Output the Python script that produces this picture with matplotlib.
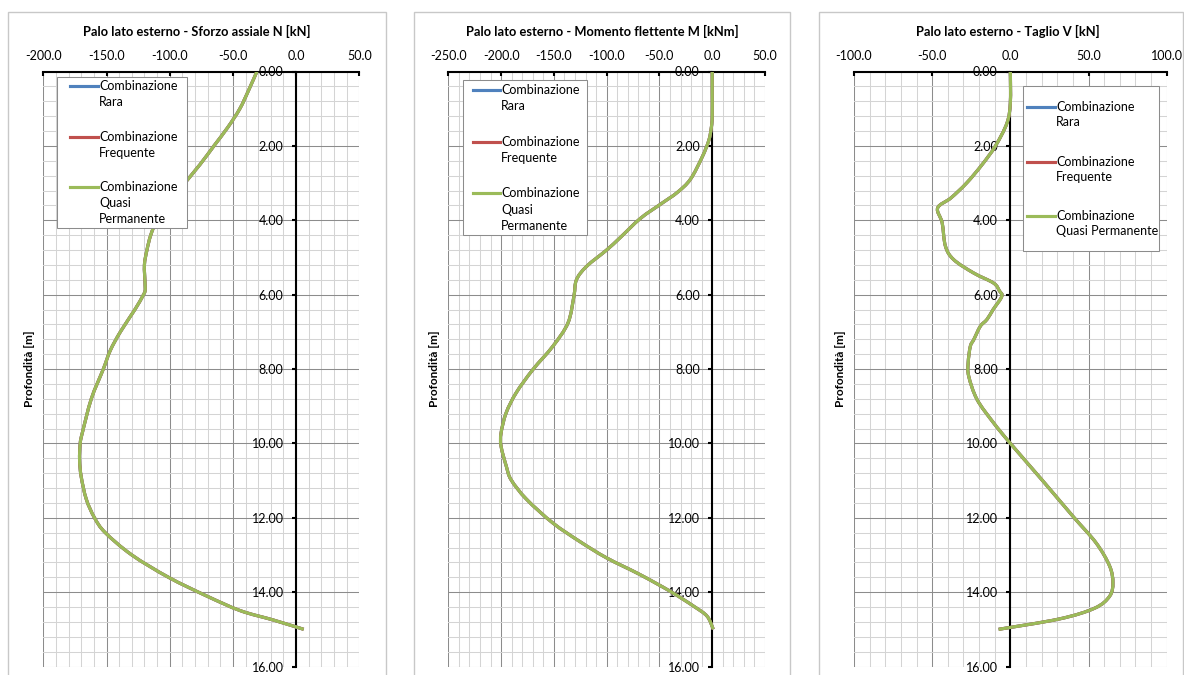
# Palo lato esterno - N, M, V vs depth (three load combinations)
import matplotlib
matplotlib.use("Agg")
import matplotlib.pyplot as plt
from matplotlib.ticker import MultipleLocator, FormatStrFormatter
from matplotlib.lines import Line2D
from matplotlib.patches import Rectangle, PathPatch
from matplotlib.path import Path

plt.rcParams['font.family'] = ['Lato', 'DejaVu Sans']

W, H = 1184, 675

# series (the three combinations give the same values)
series_names = ["Combinazione Rara", "Combinazione Frequente", "Combinazione Quasi Permanente"]
series_colors = ["#4F81BD", "#C0504D", "#9BBB59"]

# axial force N [kN]
N_depth = [0.0, 0.5, 1.0, 1.5, 2.0, 2.5, 3.0, 3.5, 4.0, 4.4, 4.8, 5.2, 5.7, 5.9,
           6.05, 6.4, 7.0, 7.5, 8.0, 8.8, 9.7, 10.0, 10.45, 10.9, 11.5, 12.0,
           12.4, 13.0, 13.6, 14.1, 14.5, 14.75, 15.0]
N_values = [-31, -37.5, -44.5, -54, -65, -76, -88, -99, -110, -115, -118, -120, -119.5, -119.5,
            -121.5, -127.5, -139, -147, -152.5, -162, -169, -170.8, -171.3, -170, -166, -159.5,
            -151, -130, -101, -71, -44, -18, 6]

# bending moment M [kNm]
M_depth = [0.0, 0.5, 1.2, 1.5, 1.85, 2.3, 2.9, 3.25, 3.55, 3.95, 4.47, 4.8, 5.24,
           5.6, 6.04, 6.76, 7.39, 8.02, 8.64, 9.18, 9.72, 10.08, 10.62, 10.98, 11.5,
           12.14, 12.64, 13.08, 13.53, 13.98, 14.38, 14.65, 15.0]
M_values = [0, 0, 0, -0.8, -3.2, -9.5, -20.7, -33, -48, -68, -87.3, -100, -119,
            -128.6, -131, -136.6, -151, -170, -185.7, -195.2, -200, -200, -195, -190.5, -176,
            -151, -125.4, -100, -68.3, -39.7, -17.5, -4.8, 1]

# shear V [kN]
V_depth = [0.0, 0.84, 1.38, 2.0, 2.5, 3.0, 3.4, 3.67, 4.07, 4.7, 5.06, 5.42, 5.69, 5.9,
           6.05, 6.4, 6.67, 6.85, 7.21, 7.39, 7.84, 8.2, 8.82, 9.45, 10.0, 11.0, 11.96,
           12.68, 13.3, 13.75, 14.11, 14.43, 14.72, 15.0]
V_values = [0, 0, -2.1, -9.5, -18, -28, -38, -46.5, -43.6, -41.5, -36.2, -23.4, -10.7, -7,
            -5.5, -11, -15, -19.2, -23.4, -25.6, -27, -26.6, -21.3, -10.7, 0, 20.6, 40,
            54.9, 63.5, 65.6, 63.5, 54, 31.5, -7.5]

titles = ["Palo lato esterno - Sforzo assiale N [kN]",
          "Palo lato esterno - Momento flettente M [kNm]",
          "Palo lato esterno - Taglio V [kN]"]
xlims = [(-200, 50), (-250, 50), (-100, 100)]
depths = [N_depth, M_depth, V_depth]
values = [N_values, M_values, V_values]

# layout in pixels
plot_lr = [(43.3, 359.3), (448.3, 765.0), (854.0, 1166.7)]
plot_top, plot_bot = 71.5, 666.5
chart_boxes = [(8.3, 385.7), (414.0, 790.0), (819.3, 1183.0)]
title_x = [197, 602, 1008]
legend_boxes = [(57.3, 76.7, 187.3, 228.3), (463.3, 80.0, 587.3, 235.0), (1022.7, 86.0, 1159.0, 250.7)]
legend_labels = [
    [["Combinazione", "Rara"], ["Combinazione", "Frequente"], ["Combinazione", "Quasi", "Permanente"]],
    [["Combinazione", "Rara"], ["Combinazione", "Frequente"], ["Combinazione", "Quasi", "Permanente"]],
    [["Combinazione", "Rara"], ["Combinazione", "Frequente"], ["Combinazione", "Quasi Permanente"]],
]
legend_rows = [(70.0, 98.3, [86.0, 136.7, 186.7], 16.3),
               (472.7, 500.0, [90.0, 141.7, 193.3], 16.3),
               (1026.7, 1055.0, [106.7, 161.7, 216.0], 15.5)]


def fx(px):
    return px / W


def fy(py):
    return 1 - py / H


def smooth_path(xs, ys):
    # Bezier through the points, like Excel's "smoothed line"
    pts = list(zip(xs, ys))
    n = len(pts)
    verts = [pts[0]]
    codes = [Path.MOVETO]
    for k in range(n - 1):
        p0 = pts[k - 1] if k > 0 else pts[k]
        p1 = pts[k]
        p2 = pts[k + 1]
        p3 = pts[k + 2] if k + 2 < n else pts[k + 1]
        c1 = (p1[0] + (p2[0] - p0[0]) / 6, p1[1] + (p2[1] - p0[1]) / 6)
        c2 = (p2[0] - (p3[0] - p1[0]) / 6, p2[1] - (p3[1] - p1[1]) / 6)
        verts += [c1, c2, p2]
        codes += [Path.CURVE4] * 3
    return Path(verts, codes)


fig = plt.figure(figsize=(W / 100, H / 100), dpi=100)

for i in range(3):
    # chart area border
    cl, cr = chart_boxes[i]
    fig.patches.append(Rectangle((fx(cl), fy(700)), fx(cr) - fx(cl), fy(11.7) - fy(700),
                                 transform=fig.transFigure, fill=False,
                                 edgecolor="#c8c8c8", linewidth=1.0))
    fig.text(fx(title_x[i]), fy(31), titles[i], ha="center", va="center",
             fontsize=9.3, fontweight="bold")

    l, r = plot_lr[i]
    ax = fig.add_axes([fx(l), fy(plot_bot), fx(r) - fx(l), fy(plot_top) - fy(plot_bot)])

    for name, col in zip(series_names, series_colors):
        ax.add_patch(PathPatch(smooth_path(values[i], depths[i]), fill=False,
                               edgecolor=col, linewidth=2.25, zorder=3, label=name))

    ax.set_xlim(*xlims[i])
    ax.set_ylim(16, 0)
    ax.xaxis.set_major_locator(MultipleLocator(50))
    ax.xaxis.set_minor_locator(MultipleLocator(10))
    ax.yaxis.set_major_locator(MultipleLocator(2))
    ax.yaxis.set_minor_locator(MultipleLocator(0.4))
    ax.xaxis.set_major_formatter(FormatStrFormatter("%.1f"))
    ax.yaxis.set_major_formatter(FormatStrFormatter("%.2f"))

    ax.grid(which="major", color="#8c8c8c", linewidth=0.75, zorder=0)
    ax.grid(which="minor", color="#d4d4d4", linewidth=0.75, zorder=0)
    ax.set_axisbelow(True)

    ax.xaxis.tick_top()
    ax.spines["bottom"].set_visible(False)
    ax.spines["right"].set_visible(False)
    ax.spines["top"].set_linewidth(1.5)
    ax.spines["left"].set_position(("data", 0))
    ax.spines["left"].set_linewidth(1.5)
    ax.tick_params(axis="x", which="major", direction="in", length=3, width=1.5,
                   pad=7, labelsize=9)
    ax.tick_params(axis="y", which="major", direction="out", length=3, width=1.5,
                   pad=6, labelsize=9)
    ax.tick_params(which="minor", length=0)

    ax.set_ylabel("Profondità [m]", fontsize=8.5, fontweight="bold")
    ax.yaxis.set_label_coords(-0.025, 0.5)

    # legend drawn like the Excel one
    bx0, by0, bx1, by1 = legend_boxes[i]
    fig.patches.append(Rectangle((fx(bx0), fy(by1)), fx(bx1) - fx(bx0), fy(by0) - fy(by1),
                                 transform=fig.transFigure, facecolor="white",
                                 edgecolor="#8c8c8c", linewidth=0.75, zorder=5))
    hx0, hx1, rows, lsp = legend_rows[i]
    for col, ry, lines in zip(series_colors, rows, legend_labels[i]):
        fig.lines.append(Line2D([fx(hx0), fx(hx1)], [fy(ry), fy(ry)], transform=fig.transFigure,
                                color=col, linewidth=2.25, zorder=6))
        for k, txt in enumerate(lines):
            fig.text(fx(hx1 + 1), fy(ry + k * lsp), txt, ha="left", va="center",
                     fontsize=9, zorder=7)

fig.savefig("out.png", dpi=100)
